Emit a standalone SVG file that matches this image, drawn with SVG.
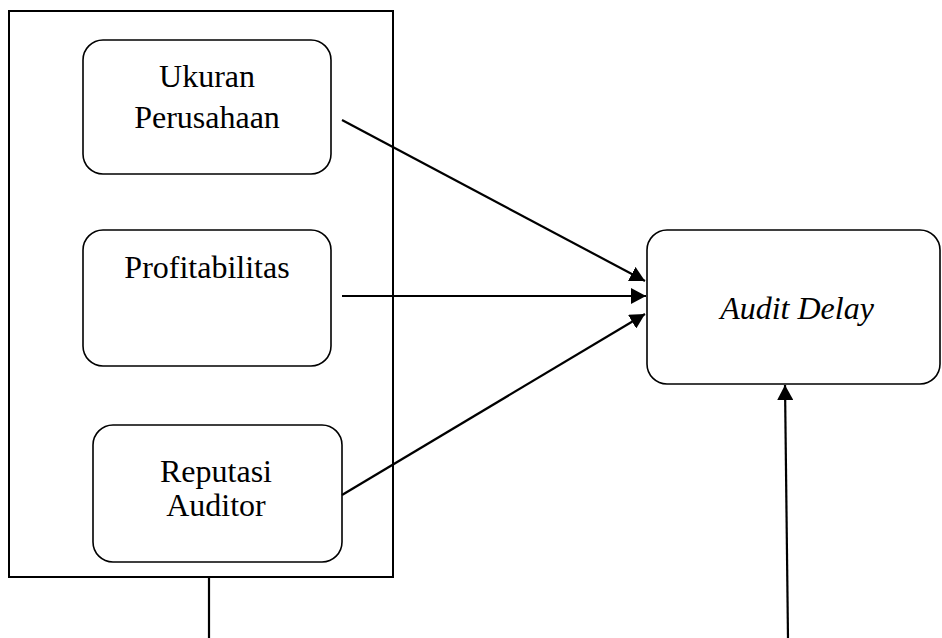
<svg xmlns="http://www.w3.org/2000/svg" width="942" height="638" viewBox="0 0 942 638">
<style>
.box{fill:#fff;stroke:#000;stroke-width:1.6}
.frame{fill:none;stroke:#000;stroke-width:2}
.t{font-family:"Liberation Serif","Times New Roman",serif;font-size:32px;fill:#000;text-anchor:middle}
.it{font-style:italic}
.c{stroke:#000;stroke-width:2.2;fill:none}
</style>
<defs>
<marker id="ah" markerUnits="userSpaceOnUse" markerWidth="16" markerHeight="16" refX="15" refY="8" orient="auto">
<path d="M0,0 L15,8 L0,16 Z" fill="#000"/>
</marker>
</defs>
<rect width="942" height="638" fill="#fff"/>
<g id="frame"><rect class="frame" x="9" y="11" width="384" height="566"/></g>
<g id="ukuran">
<rect class="box" x="83" y="40" width="248" height="134" rx="20"/>
<text class="t" x="207" y="87">Ukuran</text>
<text class="t" x="207" y="128">Perusahaan</text>
</g>
<g id="profit">
<rect class="box" x="83" y="230" width="248" height="136" rx="20"/>
<text class="t" x="207" y="278">Profitabilitas</text>
</g>
<g id="reputasi">
<rect class="box" x="93" y="425" width="249" height="137" rx="20"/>
<text class="t" x="216" y="482">Reputasi</text>
<text class="t" x="216" y="516">Auditor</text>
</g>
<g id="audit">
<rect class="box" x="647" y="230" width="293" height="154" rx="20"/>
<text class="t it" x="797" y="319">Audit Delay</text>
</g>
<g id="connectors">
<line class="c" x1="342" y1="120" x2="645" y2="281" marker-end="url(#ah)"/>
<line class="c" x1="342" y1="296" x2="646" y2="296" marker-end="url(#ah)"/>
<line class="c" x1="342" y1="495" x2="645" y2="314" marker-end="url(#ah)"/>
<line class="c" x1="209" y1="577" x2="209" y2="638"/>
<line class="c" x1="788" y1="638" x2="785" y2="385" marker-end="url(#ah)"/>
</g>
</svg>
